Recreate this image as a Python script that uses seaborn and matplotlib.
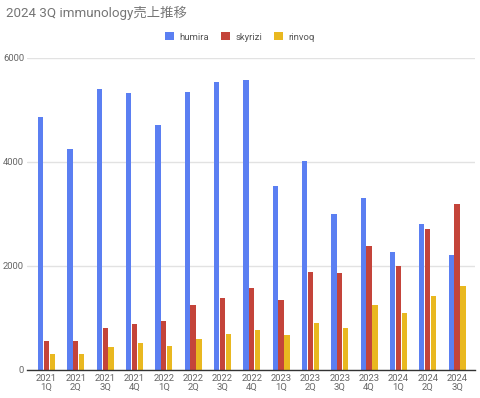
import matplotlib
matplotlib.use("Agg")
import matplotlib.pyplot as plt
import seaborn as sns
import pandas as pd
from matplotlib.patches import Patch

quarters = ["2021\n1Q", "2021\n2Q", "2021\n3Q", "2021\n4Q",
            "2022\n1Q", "2022\n2Q", "2022\n3Q", "2022\n4Q",
            "2023\n1Q", "2023\n2Q", "2023\n3Q", "2023\n4Q",
            "2024\n1Q", "2024\n2Q", "2024\n3Q"]
humira = [4860, 4250, 5410, 5320, 4720, 5350, 5540, 5570, 3540, 4010, 3000, 3300, 2270, 2800, 2220]
skyrizi = [560, 560, 800, 890, 940, 1250, 1390, 1570, 1350, 1880, 1860, 2380, 2000, 2720, 3200]
rinvoq = [300, 300, 450, 510, 460, 590, 690, 770, 680, 910, 800, 1250, 1090, 1430, 1610]
series = ["humira", "skyrizi", "rinvoq"]
colors = ["#5b7ff2", "#c4443a", "#e9b820"]

rows = []
for name, vals in zip(series, [humira, skyrizi, rinvoq]):
    for q, v in zip(quarters, vals):
        rows.append({"quarter": q, "drug": name, "value": v})
df = pd.DataFrame(rows)

sns.set_theme(style="white")
plt.rcParams['font.family'] = ['Roboto', 'Noto Sans CJK JP', 'DejaVu Sans']

fig = plt.figure(figsize=(4.8, 3.98), dpi=100)
ax = fig.add_axes([0.056, 0.0704, 0.934, 0.784])

sns.barplot(data=df, x="quarter", y="value", hue="drug", order=quarters,
            hue_order=series, palette=colors, width=0.6, gap=0.1,
            saturation=1, ax=ax, legend=False, linewidth=0)

ax.set_ylim(0, 6000)
ax.set_xlim(-0.67, len(quarters) - 1 + 0.62)
ax.set_yticks([0, 2000, 4000, 6000])
ax.set_yticklabels(["0", "2000", "4000", "6000"])
ax.yaxis.grid(True, color="#e2e2e2", linewidth=1)
ax.set_axisbelow(True)
for s in ["top", "right", "left"]:
    ax.spines[s].set_visible(False)
ax.spines["bottom"].set_color("#333333")
ax.spines["bottom"].set_linewidth(1)
ax.tick_params(axis="both", length=0, labelsize=6.8, colors="#666666", pad=3)
ax.tick_params(axis="y", pad=2)
for lbl in ax.get_xticklabels():
    lbl.set_linespacing(0.95)
ax.set_xlabel("")
ax.set_ylabel("")

fig.text(0.012, 0.985, "2024 3Q immunology売上推移", fontsize=9.6,
         color="#757575", ha="left", va="top")

handles = [Patch(facecolor=c, edgecolor="none") for c in colors]
fig.legend(handles, series, loc="center", bbox_to_anchor=(0.5, 0.907),
           ncol=3, frameon=False, fontsize=6.8, labelcolor="#555555",
           handlelength=0.9, handleheight=0.9, handletextpad=0.6,
           columnspacing=1.3)

fig.savefig("out.png", dpi=100)
